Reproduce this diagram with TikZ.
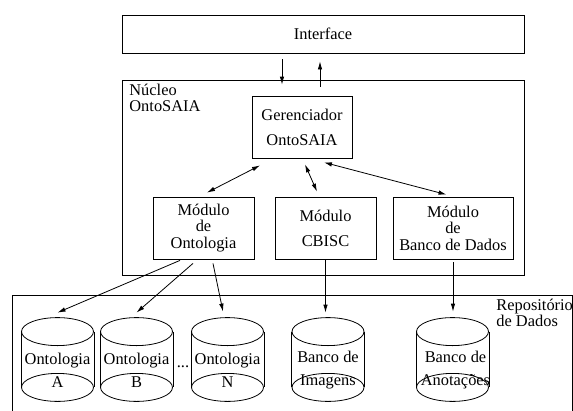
\documentclass[tikz,border=0pt]{standalone}
\usepackage{fontspec}
\setmainfont{Liberation Serif}
\usetikzlibrary{arrows.meta}

\begin{document}
\begin{tikzpicture}[x=1pt,y=-1pt,line width=0.8pt,
	font=\fontsize{16.4}{16.5}\selectfont,
	>={Latex[length=8pt,width=4.5pt]},
	caixa/.style={draw, inner sep=0pt, align=center},
	banco/.style={minimum width=72pt, minimum height=83pt, inner sep=0pt},
	rotulo/.style={align=center, inner sep=0pt, font=\fontsize{16.4}{23}\selectfont},
	titulo/.style={anchor=north west, align=left, inner sep=0pt, font=\fontsize{16.4}{15.5}\selectfont}]
				\useasboundingbox (0,0) rectangle (573,410);
				\node[caixa, minimum width=402pt, minimum height=38pt] (interface) at (323,34) {Interface};
				\node[caixa, minimum width=402pt, minimum height=195pt] (nucleo) at (323,177.5) {};
				\node[titulo] (nucleotit) at (129,84) {Núcleo\\OntoSAIA};
				\node[caixa, minimum width=100pt, minimum height=62pt, font=\fontsize{16.4}{25}\selectfont] (ger) at (302,127) {Gerenciador\\OntoSAIA};
				\node[caixa, minimum width=101pt, minimum height=62pt] (modont) at (203.5,228) {Módulo\\de\\Ontologia};
				\node[caixa, minimum width=101pt, minimum height=62pt, font=\fontsize{16.4}{25}\selectfont] (modcb) at (325.5,228) {Módulo\\CBISC};
				\node[caixa, minimum width=120pt, minimum height=62pt] (modbd) at (453,228) {Módulo\\de\\Banco de Dados};
				\node[caixa, minimum width=560pt, minimum height=130pt] (repo) at (292,360) {};
				\node[titulo] (repotit) at (496,299) {Repositório\\de Dados};
				\node[banco] (ontA) at (57.5,359.5) {};
				\node[banco] (ontB) at (136.5,359.5) {};
				\node[banco] (ontN) at (227.5,359.5) {};
				\node[banco] (img) at (328,359.5) {};
				\node[banco] (anot) at (452.5,359.5) {};
				\foreach \b in {ontA,ontB,ontN,img,anot} {
					\draw ([yshift=-14pt]\b.north) ellipse [x radius=36pt, y radius=14pt];
					\draw ([yshift=14pt]\b.south) ellipse [x radius=36pt, y radius=14pt];
					\draw ([yshift=-14pt]\b.north west) -- ([yshift=14pt]\b.south west);
					\draw ([yshift=-14pt]\b.north east) -- ([yshift=14pt]\b.south east);
				}
				\node[rotulo] (ontAtxt) at ([yshift=-10.5pt]ontA.center) {Ontologia\\A};
				\node[rotulo] (ontBtxt) at ([yshift=-10.5pt]ontB.center) {Ontologia\\B};
				\node[rotulo] (ontNtxt) at ([yshift=-10.5pt]ontN.center) {Ontologia\\N};
				\node[rotulo] (imgtxt) at ([yshift=-10.5pt]img.center) {Banco de\\Imagens};
				\node[rotulo] (anottxt) at ([shift={(3,10.5)}]anot.center) {Banco de\\Anotações};
				\node[inner sep=0pt] (dots) at (183,367) {...};
				\draw[->] ([shift={(-41,6)}]interface.south) -- ([shift={(-20,-11)}]ger.north);
				\draw[->] ([shift={(18,-9)}]ger.north) -- ([shift={(-3,8)}]interface.south);
				\draw[<->] ([shift={(-42,7)}]ger.south) -- ([shift={(3.5,-4)}]modont.north);
				\draw[<->] ([shift={(3,6)}]ger.south) -- ([shift={(-8.5,-5)}]modcb.north);
				\draw[<->] ([shift={(22,4)}]ger.south) -- ([shift={(-6.5,-2)}]modbd.north);
				\draw[->] ([shift={(-23.5,1)}]modont.south) -- ([yshift=5pt]ontA.north);
				\draw[->] ([shift={(-10.5,4)}]modont.south) -- ([yshift=5pt]ontB.north);
				\draw[->] ([shift={(9.5,4)}]modont.south) -- ([shift={(-4.5,-6)}]ontN.north);
				\draw[->] (modcb.south) -- ([yshift=5pt]modcb.south |- img.north);
				\draw[->] ([yshift=-3pt]modbd.south) -- ([yshift=6pt]modbd.south |- anot.north);
			\end{tikzpicture}
\end{document}
